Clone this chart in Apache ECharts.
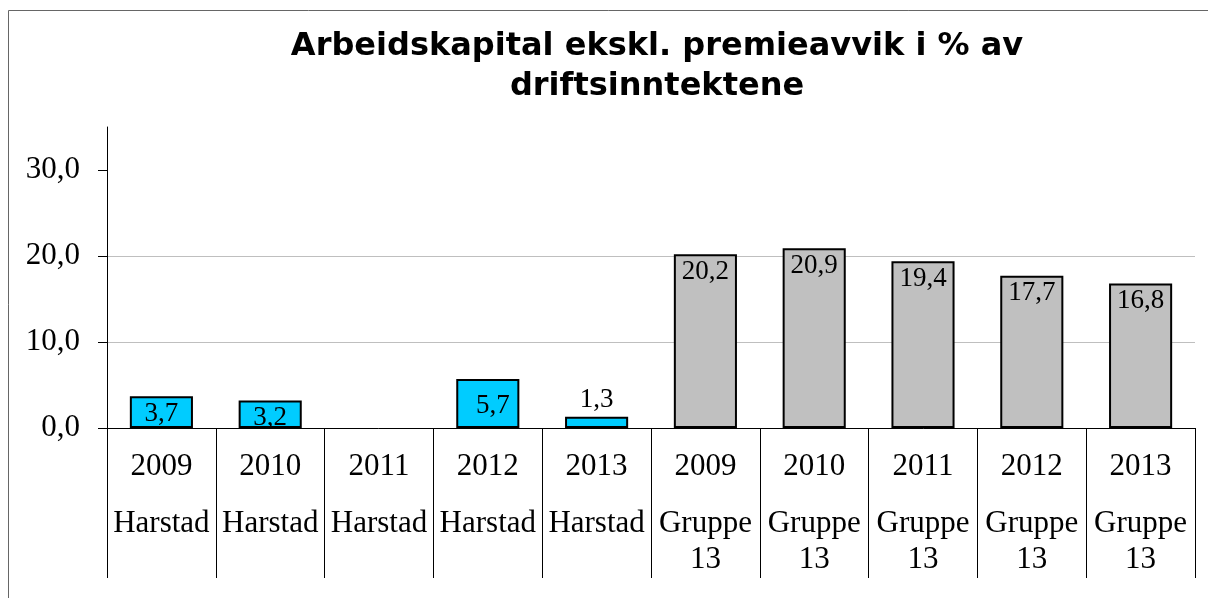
<!DOCTYPE html>
<html>
<head>
<meta charset="utf-8">
<script src="https://cdn.jsdelivr.net/npm/echarts@6/dist/echarts.min.js"></script>
<style>html,body{margin:0;padding:0;background:#fff}#c{width:1208px;height:598px}</style>
</head>
<body>
<div id="c"></div>
<script>
const years = ['2009','2010','2011','2012','2013','2009','2010','2011','2012','2013'];
const groups = ['Harstad','Harstad','Harstad','Harstad','Harstad','Gruppe 13','Gruppe 13','Gruppe 13','Gruppe 13','Gruppe 13'];
const values = [3.7, 3.2, -0.2, 5.7, 1.3, 20.2, 20.9, 19.4, 17.7, 16.8];
const yTicks = [0, 10, 20, 30];
const titleText = 'Arbeidskapital ekskl. premieavvik i % av\ndriftsinntektene';

const categories = years.map((y, i) => y + '|' + groups[i]);
const fmt = v => v.toFixed(1).replace('.', ',');

const chart = echarts.init(document.getElementById('c'), null, {renderer: 'canvas'});
const data = values.map((v, i) => {
  const isH = groups[i] === 'Harstad';
  const item = {
    value: v,
    itemStyle: {color: isH ? '#00CCFF' : '#C0C0C0'}
  };
  if (v <= 0) {
    item.label = {show: false};
    item.itemStyle.borderWidth = 0;
  } else if (v < 2) {
    item.label = {position: 'top', distance: 3};
  } else if (isH && v > 5) {
    item.label = {offset: [5, 9]};
  }
  return item;
});

chart.setOption({
  backgroundColor: '#fff',
  animation: false,
  title: {
    text: titleText,
    left: 652,
    top: 22,
    textAlign: 'center',
    textStyle: {
      fontFamily: 'DejaVu Sans',
      fontWeight: 'bold',
      fontSize: 32,
      lineHeight: 40,
      color: '#000'
    }
  },
  graphic: [{
    type: 'rect',
    shape: {x: 8.5, y: 10.5, width: 1400, height: 800},
    style: {fill: 'none', stroke: '#666', lineWidth: 1},
    silent: true
  }],
  grid: {left: 107, right: 13, top: 127, bottom: 170, containLabel: false},
  xAxis: {
    type: 'category',
    data: categories,
    axisLine: {show: true, lineStyle: {color: '#000', width: 1}},
    axisTick: {show: true, interval: 0, length: 150, lineStyle: {color: '#000', width: 1}},
    axisLabel: {
      interval: 0,
      margin: 20,
      formatter: function (val) {
        const p = val.split('|');
        const g = p[1].split(' ').map(s => '{g|' + s + '}').join('\n');
        return '{y|' + p[0] + '}\n{s| }\n' + g;
      },
      rich: {
        y: {fontFamily: 'Liberation Serif', fontSize: 31, lineHeight: 37, color: '#000'},
        s: {fontSize: 10, lineHeight: 21},
        g: {fontFamily: 'Liberation Serif', fontSize: 31, lineHeight: 36, color: '#000'}
      }
    },
    splitLine: {show: false}
  },
  yAxis: {
    type: 'value',
    min: 0,
    max: 35,
    interval: 10,
    axisLine: {show: true, lineStyle: {color: '#000', width: 1}},
    axisTick: {show: true, length: 9, customValues: yTicks, lineStyle: {color: '#000'}},
    axisLabel: {
      customValues: yTicks,
      margin: 27,
      fontFamily: 'Liberation Serif',
      fontSize: 31,
      color: '#000',
      formatter: v => (v > 30 ? '' : fmt(v))
    },
    splitLine: {show: true, showMaxLine: false, showMinLine: false, lineStyle: {color: '#BFBFBF', width: 1}}
  },
  series: [{
    type: 'bar',
    data: data,
    barWidth: '58%',
    itemStyle: {borderColor: '#000', borderWidth: 2},
    label: {
      show: true,
      position: 'insideTop',
      distance: 4,
      fontFamily: 'Liberation Serif',
      fontSize: 27,
      color: '#000',
      formatter: p => fmt(p.value)
    }
  }]
});
</script>
</body>
</html>
